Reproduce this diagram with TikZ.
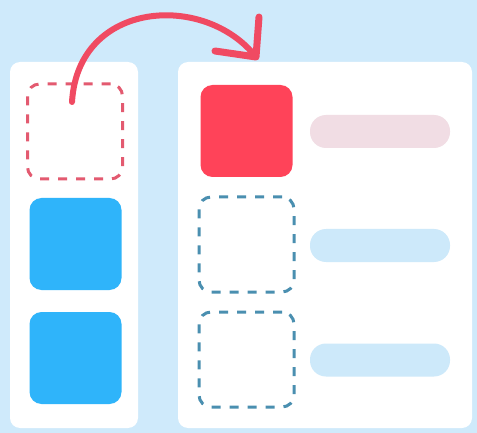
\documentclass[tikz,border=0pt]{standalone}
\usetikzlibrary{calc}
\definecolor{bgblue}{HTML}{CFEAFB}
\definecolor{reddash}{HTML}{E35A70}
\definecolor{bluedash}{HTML}{4A8FB0}
\definecolor{solidblue}{HTML}{2FB4FA}
\definecolor{solidred}{HTML}{FF4359}
\definecolor{pinkbar}{HTML}{F1DDE4}
\definecolor{bluebar}{HTML}{CDE9FA}
\definecolor{arrowred}{HTML}{F04A62}
\tikzset{
  panel/.style={fill=white, rounded corners=10pt, inner sep=0pt, draw=none},
  sq/.style={rounded corners=12pt, inner sep=0pt, minimum width=92pt, minimum height=92pt},
  dashbox/.style={sq, fill=white, line width=3pt, dash pattern=on 9pt off 9pt, minimum width=95pt, minimum height=95pt},
  bar/.style={rounded corners=16pt, inner sep=0pt, minimum width=140pt, minimum height=33pt},
  flow/.style={draw=arrowred, line width=6pt, line cap=round, line join=round}
}
\begin{document}
\begin{tikzpicture}[x=1pt,y=-1pt]
\fill[bgblue] (0,0) rectangle (477,433);
\useasboundingbox (0,0) rectangle (477,433);
\node[panel, minimum width=128pt, minimum height=366pt] (lp) at (74,245) {};
\node[panel, minimum width=294pt, minimum height=366pt] (rp) at (325,245) {};
% left column
\node[dashbox, draw=reddash] (d1) at (75,131.5) {};
\node[sq, fill=solidblue] (b1) at (75.5,244) {};
\node[sq, fill=solidblue] (b2) at (75.5,358) {};
% right column
\node[sq, fill=solidred] (r1) at (246.5,131) {};
\node[dashbox, draw=bluedash] (d2) at (246.5,244.5) {};
\node[dashbox, draw=bluedash] (d3) at (246.5,359.5) {};
\node[bar, fill=pinkbar] (p1) at (380,131.5) {};
\node[bar, fill=bluebar] (p2) at (380,245.5) {};
\node[bar, fill=bluebar] (p3) at (380,360) {};
% arrow
\coordinate (as) at (72,102);
\coordinate (ae) at (256,57);
\coordinate (h1) at (215,51);
\coordinate (h2) at (259,17);
\draw[flow] (as) .. controls (78,0) and (205,-8) .. (ae);
\draw[flow, line width=7pt] (h1) -- (ae) -- (h2);
\end{tikzpicture}
\end{document}
